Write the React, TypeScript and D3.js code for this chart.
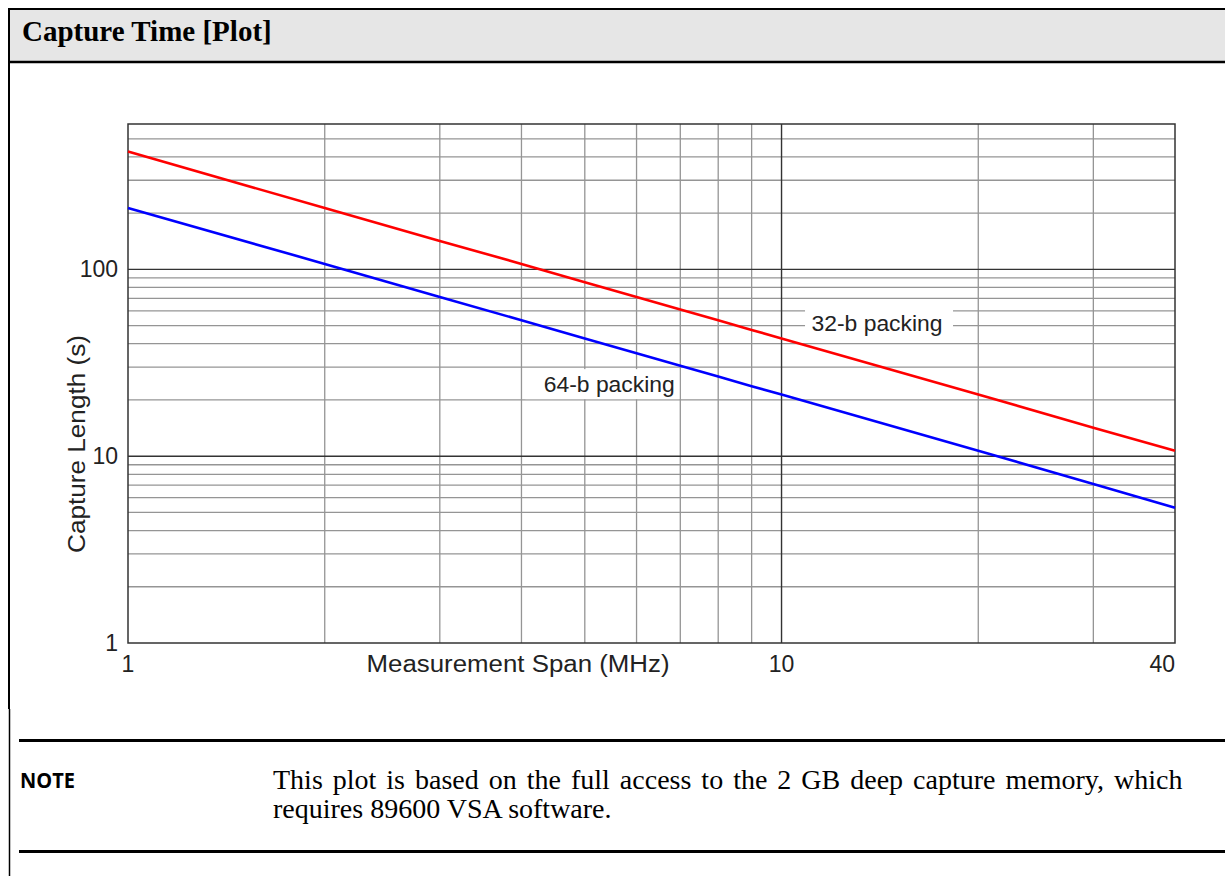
import React from "react";
import * as d3 from "d3";

// ---- data ----
const spans = [1, 2, 3, 4, 5, 6, 7, 8, 9, 10, 20, 30, 40];
const packing32 = [427, 213, 142, 107, 85.4, 71.2, 61, 53.4, 47.4, 42.7, 21.4, 14.2, 10.7];
const packing64 = [213, 107, 71.2, 53.4, 42.7, 35.6, 30.5, 26.7, 23.7, 21.4, 10.7, 7.1, 5.3];
const xMinorGrid = [2, 3, 4, 5, 6, 7, 8, 9, 20, 30];
const xMajorGrid = [10];
const yMinorGrid = [2, 3, 4, 5, 6, 7, 8, 9, 20, 30, 40, 50, 60, 70, 80, 90, 200, 300, 400, 500];
const yMajorGrid = [10, 100];
const xTickLabels = [
  { v: 1, t: "1", anchor: "middle" },
  { v: 10, t: "10", anchor: "middle" },
  { v: 40, t: "40", anchor: "end" },
];
const yTickLabels = [
  { v: 1, t: "1" },
  { v: 10, t: "10" },
  { v: 100, t: "100" },
];
const seriesLabels = [
  { t: "32-b packing", x: 14.0, y: 51.6 },
  { t: "64-b packing", x: 5.45, y: 24.3 },
];
// label background boxes (layout only): offsets from the label anchor
const labelBoxes = [
  { dx0: -72, dx1: 76, dy0: -23, dy1: 19 },
  { dx0: -84, dx1: 70, dy0: -15, dy1: 15 },
];

const W = 1225;
const H = 876;

export default function App() {
  const x = d3.scaleLog().domain([1, 40]).range([128, 1175]);
  const y = d3.scaleLog().domain([1, 600]).range([643, 124]);
  const line = d3
    .line<number>()
    .x((_, i) => x(spans[i]))
    .y((d) => y(d));

  const sans = "'Liberation Sans', Arial, sans-serif";
  const serif = "'Liberation Serif', 'Times New Roman', serif";

  return (
    <svg
      width={W}
      height={H}
      style={{ position: "absolute", left: 0, top: 0, background: "#fff" }}
    >
      {/* header band */}
      <rect x={10} y={10} width={W - 10} height={51} fill="#e6e6e6" />
      <line x1={8} y1={9} x2={W} y2={9} stroke="#000" strokeWidth={2} />
      <line x1={8} y1={62} x2={W} y2={62} stroke="#000" strokeWidth={2.5} />
      <line x1={9} y1={8} x2={9} y2={709} stroke="#000" strokeWidth={2} />
      <line x1={9.5} y1={709} x2={9.5} y2={H} stroke="#000" strokeWidth={1.5} />
      <text x={22} y={41} fontFamily={serif} fontWeight="bold" fontSize={29} fill="#000">
        Capture Time [Plot]
      </text>

      {/* grid */}
      <g>
        {xMinorGrid.map((v) => (
          <line key={"xm" + v} x1={x(v)} x2={x(v)} y1={y(600)} y2={y(1)} stroke="#959595" strokeWidth={1.3} />
        ))}
        {yMinorGrid.map((v) => (
          <line key={"ym" + v} x1={x(1)} x2={x(40)} y1={y(v)} y2={y(v)} stroke="#959595" strokeWidth={1.3} />
        ))}
        {xMajorGrid.map((v) => (
          <line key={"xM" + v} x1={x(v)} x2={x(v)} y1={y(600)} y2={y(1)} stroke="#333" strokeWidth={1.4} />
        ))}
        {yMajorGrid.map((v) => (
          <line key={"yM" + v} x1={x(1)} x2={x(40)} y1={y(v)} y2={y(v)} stroke="#333" strokeWidth={1.4} />
        ))}
        <rect
          x={x(1)}
          y={y(600)}
          width={x(40) - x(1)}
          height={y(1) - y(600)}
          fill="none"
          stroke="#333"
          strokeWidth={1.5}
        />
      </g>

      {/* series labels */}
      {seriesLabels.map((l, i) => {
        const b = labelBoxes[i];
        return (
          <g key={l.t}>
            <rect
              x={x(l.x) + b.dx0}
              y={y(l.y) + b.dy0}
              width={b.dx1 - b.dx0}
              height={b.dy1 - b.dy0}
              fill="#fff"
            />
            <text
              x={x(l.x)}
              y={y(l.y) + 8}
              textAnchor="middle"
              fontFamily={sans}
              fontSize={22}
              fill="#222"
              textLength={131}
              lengthAdjust="spacingAndGlyphs"
            >
              {l.t}
            </text>
          </g>
        );
      })}

      {/* series */}
      <path d={line(packing32) || ""} fill="none" stroke="#ff0000" strokeWidth={2.6} />
      <path d={line(packing64) || ""} fill="none" stroke="#0000ff" strokeWidth={2.6} />

      {/* tick labels */}
      {xTickLabels.map((t) => (
        <text
          key={"xt" + t.t}
          x={x(t.v)}
          y={672}
          textAnchor={t.anchor}
          fontFamily={sans}
          fontSize={23}
          fill="#222"
        >
          {t.t}
        </text>
      ))}
      {yTickLabels.map((t) => (
        <text
          key={"yt" + t.t}
          x={118}
          y={y(t.v) + 8}
          textAnchor="end"
          fontFamily={sans}
          fontSize={23}
          fill="#222"
        >
          {t.t}
        </text>
      ))}

      {/* axis titles */}
      <text
        x={518}
        y={672}
        textAnchor="middle"
        fontFamily={sans}
        fontSize={23}
        fill="#222"
        textLength={303}
        lengthAdjust="spacingAndGlyphs"
      >
        Measurement Span (MHz)
      </text>
      <text
        transform="translate(85,444) rotate(-90)"
        textAnchor="middle"
        fontFamily={sans}
        fontSize={23}
        fill="#222"
        textLength={218}
        lengthAdjust="spacingAndGlyphs"
      >
        Capture Length (s)
      </text>

      {/* note */}
      <line x1={19} y1={740.5} x2={W} y2={740.5} stroke="#000" strokeWidth={3} />
      <line x1={19} y1={851.5} x2={W} y2={851.5} stroke="#000" strokeWidth={3} />
      <text
        x={20}
        y={788}
        fontFamily="'Open Sans', sans-serif"
        fontWeight="bold"
        fontSize={22}
        fill="#000"
        textLength={55}
        lengthAdjust="spacingAndGlyphs"
      >
        NOTE
      </text>
      <text
        x={273}
        y={789}
        fontFamily={serif}
        fontSize={28}
        fill="#000"
        style={{ wordSpacing: "3px" }}
      >
        This plot is based on the full access to the 2 GB deep capture memory, which
      </text>
      <text x={273} y={818} fontFamily={serif} fontSize={28} fill="#000">
        requires 89600 VSA software.
      </text>
    </svg>
  );
}
